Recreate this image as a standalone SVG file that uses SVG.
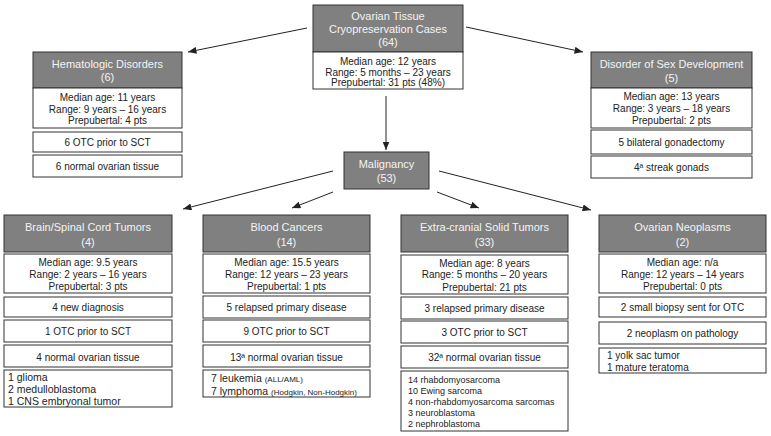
<svg xmlns="http://www.w3.org/2000/svg" width="771" height="436" viewBox="0 0 771 436">
<defs>
<marker id="ah" markerUnits="userSpaceOnUse" markerWidth="9" markerHeight="7" refX="8.5" refY="3.5" orient="auto">
<path d="M0,0 L8.5,3.5 L0,7 z" fill="#222"/>
</marker>
</defs>
<style>
.hd{fill:#808080;stroke:#333;stroke-width:1}
.bx{fill:#fff;stroke:#333;stroke-width:1}
.ht{font-family:"Liberation Sans",Arial,sans-serif;font-size:11px;fill:#f4f4f4;text-anchor:middle}
.t{font-family:"Liberation Sans",Arial,sans-serif;font-size:10px;fill:#222;text-anchor:middle}
.l{font-family:"Liberation Sans",Arial,sans-serif;font-size:10.5px;fill:#222}
.s{font-size:8px}
.l9{font-family:"Liberation Sans",Arial,sans-serif;font-size:9px;fill:#222}
.c{stroke:#222;stroke-width:1;fill:none;marker-end:url(#ah)}
</style>
<rect width="771" height="436" fill="#fff"/>
<g id="connectors">
<line class="c" x1="307" y1="28" x2="188" y2="52"/>
<line class="c" x1="466" y1="27" x2="583" y2="52"/>
<line class="c" x1="386" y1="96" x2="386" y2="150"/>
<line class="c" x1="333" y1="171" x2="183" y2="209"/>
<line class="c" x1="333" y1="192" x2="292" y2="208"/>
<line class="c" x1="437" y1="192" x2="479" y2="208"/>
<line class="c" x1="439" y1="171" x2="591" y2="210"/>
</g>
<g id="root">
<rect class="hd" x="313" y="5" width="150" height="47"/>
<text class="ht" x="388" y="20">Ovarian Tissue</text>
<text class="ht" x="388" y="33">Cryopreservation Cases</text>
<text class="ht" x="388" y="46">(64)</text>
<rect class="bx" x="313" y="52" width="150" height="37"/>
<text class="t" x="388" y="64.5">Median age: 12 years</text>
<text class="t" x="388" y="75.5">Range: 5 months – 23 years</text>
<text class="t" x="388" y="86">Prepubertal: 31 pts (48%)</text>
</g>
<g id="hematologic">
<rect class="hd" x="33" y="52" width="149" height="36"/>
<text class="ht" x="107.5" y="68">Hematologic Disorders</text>
<text class="ht" x="107.5" y="81">(6)</text>
<rect class="bx" x="33" y="88" width="149" height="40"/>
<text class="t" x="107.5" y="100.5">Median age: 11 years</text>
<text class="t" x="107.5" y="112.5">Range: 9 years – 16 years</text>
<text class="t" x="107.5" y="124">Prepubertal: 4 pts</text>
<rect class="bx" x="33" y="132" width="149" height="20"/>
<text class="t" x="107.5" y="145.5">6 OTC prior to SCT</text>
<rect class="bx" x="33" y="155" width="149" height="22"/>
<text class="t" x="107.5" y="170">6 normal ovarian tissue</text>
</g>
<g id="dsd">
<rect class="hd" x="591" y="52" width="161" height="36"/>
<text class="ht" x="671.5" y="68">Disorder of Sex Development</text>
<text class="ht" x="671.5" y="82">(5)</text>
<rect class="bx" x="591" y="88" width="161" height="40"/>
<text class="t" x="671.5" y="99.5">Median age: 13 years</text>
<text class="t" x="671.5" y="111.5">Range: 3 years – 18 years</text>
<text class="t" x="671.5" y="123.5">Prepubertal: 2 pts</text>
<rect class="bx" x="591" y="130" width="161" height="24"/>
<text class="t" x="671.5" y="146">5 bilateral gonadectomy</text>
<rect class="bx" x="591" y="156" width="161" height="22"/>
<text class="t" x="671.5" y="170.5">4ª streak gonads</text>
</g>
<g id="malignancy">
<rect class="hd" x="344" y="152" width="85" height="37"/>
<text class="ht" x="386.5" y="168">Malignancy</text>
<text class="ht" x="386.5" y="182">(53)</text>
</g>
<g id="brain">
<rect class="hd" x="4" y="215" width="168" height="37"/>
<text class="ht" x="88" y="231">Brain/Spinal Cord Tumors</text>
<text class="ht" x="88" y="245.5">(4)</text>
<rect class="bx" x="4" y="254" width="168" height="39"/>
<text class="t" x="88" y="265.5">Median age: 9.5 years</text>
<text class="t" x="88" y="277.5">Range: 2 years – 16 years</text>
<text class="t" x="88" y="289.5">Prepubertal: 3 pts</text>
<rect class="bx" x="4" y="297" width="168" height="20"/>
<text class="t" x="88" y="310.5">4 new diagnosis</text>
<rect class="bx" x="4" y="320" width="168" height="22"/>
<text class="t" x="88" y="334.5">1 OTC prior to SCT</text>
<rect class="bx" x="4" y="345" width="168" height="22"/>
<text class="t" x="88" y="360.5">4 normal ovarian tissue</text>
<rect class="bx" x="4" y="370" width="168" height="37"/>
<text class="l" x="8" y="380.5">1 glioma</text>
<text class="l" x="8" y="392.5">2 medulloblastoma</text>
<text class="l" x="8" y="404.5">1 CNS embryonal tumor</text>
</g>
<g id="blood">
<rect class="hd" x="203" y="215" width="167" height="37"/>
<text class="ht" x="286.5" y="231">Blood Cancers</text>
<text class="ht" x="286.5" y="245.5">(14)</text>
<rect class="bx" x="203" y="254" width="167" height="39"/>
<text class="t" x="286.5" y="265.5">Median age: 15.5 years</text>
<text class="t" x="286.5" y="277.5">Range: 12 years – 23 years</text>
<text class="t" x="286.5" y="289.5">Prepubertal: 1 pts</text>
<rect class="bx" x="203" y="296" width="167" height="22"/>
<text class="t" x="286.5" y="310.5">5 relapsed primary disease</text>
<rect class="bx" x="203" y="320" width="167" height="22"/>
<text class="t" x="286.5" y="334.5">9 OTC prior to SCT</text>
<rect class="bx" x="203" y="345" width="167" height="22"/>
<text class="t" x="286.5" y="360.5">13ª normal ovarian tissue</text>
<rect class="bx" x="203" y="370" width="167" height="27"/>
<text class="l" x="211" y="382">7 leukemia <tspan class="s">(ALL/AML)</tspan></text>
<text class="l" x="211" y="395">7 lymphoma <tspan class="s">(Hodgkin, Non-Hodgkin)</tspan></text>
</g>
<g id="extracranial">
<rect class="hd" x="401" y="215" width="167" height="37"/>
<text class="ht" x="484.5" y="231">Extra-cranial Solid Tumors</text>
<text class="ht" x="484.5" y="245.5">(33)</text>
<rect class="bx" x="401" y="255" width="167" height="39"/>
<text class="t" x="484.5" y="266.5">Median age: 8 years</text>
<text class="t" x="484.5" y="278">Range: 5 months – 20 years</text>
<text class="t" x="484.5" y="290.5">Prepubertal: 21 pts</text>
<rect class="bx" x="401" y="297" width="167" height="22"/>
<text class="t" x="484.5" y="311.5">3 relapsed primary disease</text>
<rect class="bx" x="401" y="321" width="167" height="22"/>
<text class="t" x="484.5" y="335.5">3 OTC prior to SCT</text>
<rect class="bx" x="401" y="346" width="167" height="22"/>
<text class="t" x="484.5" y="360.5">32ª normal ovarian tissue</text>
<rect class="bx" x="401" y="371" width="167" height="60"/>
<text class="l9" x="408" y="382.5">14 rhabdomyosarcoma</text>
<text class="l9" x="408" y="393.5">10 Ewing sarcoma</text>
<text class="l9" x="408" y="404.5">4 non-rhabdomyosarcoma sarcomas</text>
<text class="l9" x="408" y="415.5">3 neuroblastoma</text>
<text class="l9" x="408" y="426.5">2 nephroblastoma</text>
</g>
<g id="ovarian">
<rect class="hd" x="599" y="215" width="167" height="37"/>
<text class="ht" x="682.5" y="231">Ovarian Neoplasms</text>
<text class="ht" x="682.5" y="245.5">(2)</text>
<rect class="bx" x="599" y="254" width="167" height="39"/>
<text class="t" x="682.5" y="265.5">Median age: n/a</text>
<text class="t" x="682.5" y="277.5">Range: 12 years – 14 years</text>
<text class="t" x="682.5" y="289.5">Prepubertal: 0 pts</text>
<rect class="bx" x="599" y="297" width="167" height="20"/>
<text class="t" x="682.5" y="310.5">2 small biopsy sent for OTC</text>
<rect class="bx" x="599" y="322" width="167" height="22"/>
<text class="t" x="682.5" y="336.5">2 neoplasm on pathology</text>
<rect class="bx" x="599" y="348" width="167" height="25"/>
<text class="t" x="607" y="358.5" style="text-anchor:start">1 yolk sac tumor</text>
<text class="t" x="607" y="370.5" style="text-anchor:start">1 mature teratoma</text>
</g>
</svg>
